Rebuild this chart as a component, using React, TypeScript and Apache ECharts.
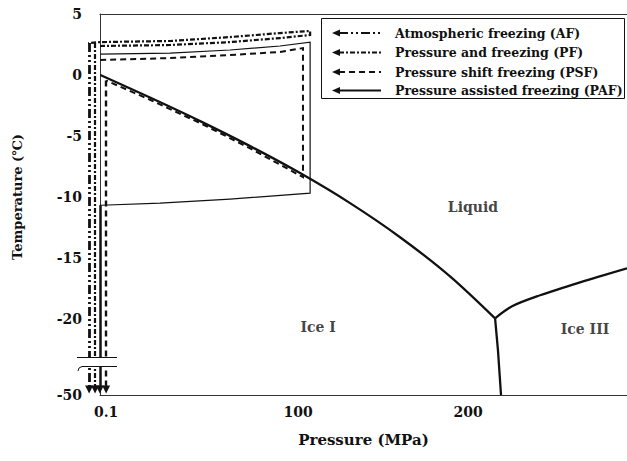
import React, { useEffect, useRef } from "react";
import * as echarts from "echarts";

// The original figure is schematic: pressure and temperature axes are broken.
// Values below are in the figure's display units.
const xTickValues = [-12.9, 100, 200];
const xTickLabels = ["0.1", "100", "200"];
const yTickValues = [5, 0, -5, -10, -15, -20, -26.2];
const yTickLabels = ["5", "0", "-5", "-10", "-15", "-20", "-50"];

// Phase boundaries
const iceILiquidP = [-16.3, 12.9, 42.4, 71.8, 101.2, 130.6, 160.0, 189.4, 215.9];
const iceILiquidT = [0.0, -1.84, -3.77, -5.82, -8.03, -10.49, -13.28, -16.48, -19.92];
const iceIIILiquidP = [215.9, 225.9, 242.4, 265.9, 293.5];
const iceIIILiquidT = [-19.92, -18.93, -18.03, -16.97, -15.82];
const iceIIceIIIP = [215.9, 217.6, 219.4];
const iceIIceIIIT = [-19.92, -22.54, -26.2];

// Freezing process paths (pressure / temperature treatment loops)
const pfLoopP = [-16.5, 24.7, 60, 89.4, 107.1, 107.1, 89.4, 60, 24.7, -16.5, -23.4];
const pfLoopT = [2.38, 2.46, 2.7, 3.03, 3.28, 3.61, 3.44, 3.11, 2.79, 2.7, 2.62];
const psfLoopP = [-16.4, 24.7, 60, 89.4, 102.9, 102.9, 71.8, 42.4, 12.9, -12.9];
const psfLoopT = [1.23, 1.39, 1.64, 1.89, 2.21, -8.36, -6.0, -3.93, -2.02, -0.45];
const pafLoopP = [-16.4, 24.7, 60, 89.4, 107.1, 107.1, 60, 18.8, -15.9, -16.6];
const pafLoopT = [1.72, 1.8, 2.05, 2.38, 2.7, -9.67, -10.16, -10.49, -10.66, -10.66];

// Final cooling to storage temperature at 0.1 MPa (start, end)
const afDownP = [-22.9, -22.9];
const afDownT = [2.62, -25.74];
const pfDownP = [-19.4, -19.4];
const pfDownT = [2.62, -25.74];
const psfDownP = [-12.9, -12.9];
const psfDownT = [-0.45, -25.74];
const pafDownP = [-16.6, -16.6];
const pafDownT = [-10.66, -25.74];

// Region labels
const regionNames = ["Liquid", "Ice I", "Ice III"];
const regionP = [202.9, 111.8, 268.8];
const regionT = [-10.82, -20.66, -20.82];

const legendNames = [
  "Atmospheric freezing (AF)",
  "Pressure and freezing (PF)",
  "Pressure shift freezing (PSF)",
  "Pressure assisted freezing (PAF)",
];

const INK = "#111";
const FONT = "DejaVu Serif";
const AF_DASH = [9, 3, 2, 3, 2, 3];
const PF_DASH = [5, 2, 2, 2];
const PSF_DASH = [6, 4];

const pts = (xs: number[], ys: number[]) => xs.map((x, i) => [x, ys[i]]);

export default function App() {
  const ref = useRef<HTMLDivElement>(null);
  useEffect(() => {
    const chart = echarts.init(ref.current!, null, { renderer: "svg" });

    const loopSeries = (name: string, xs: number[], ys: number[], width: number, type: any) => ({
      name,
      type: "lines",
      coordinateSystem: "cartesian2d",
      polyline: true,
      clip: false,
      silent: true,
      lineStyle: { color: INK, width, type, opacity: 1 },
      data: [{ coords: pts(xs, ys) }],
      z: 3,
    });
    const downSeries = (name: string, xs: number[], ys: number[], width: number, type: any) => ({
      name,
      type: "lines",
      coordinateSystem: "cartesian2d",
      clip: false,
      silent: true,
      symbol: ["none", "triangle"],
      symbolSize: 8,
      itemStyle: { color: INK },
      lineStyle: { color: INK, width, type, opacity: 1, curveness: 0 },
      data: [{ coords: pts(xs, ys) }],
      z: 3,
    });

    const legendRows = [33, 52.5, 72, 90.5];
    const legendDash = [AF_DASH, PF_DASH, PSF_DASH, null];
    const legendGraphic: any[] = [
      {
        type: "rect",
        z: 100,
        shape: { x: 321.5, y: 18.5, width: 303, height: 80 },
        style: { fill: "#fff", stroke: INK, lineWidth: 1 },
      },
    ];
    legendRows.forEach((y, i) => {
      legendGraphic.push({
        type: "line",
        z: 101,
        shape: { x1: 339, y1: y, x2: 381, y2: y },
        style: { stroke: INK, lineWidth: 2, lineDash: legendDash[i] || undefined },
      });
      legendGraphic.push({
        type: "polygon",
        z: 101,
        shape: { points: [[332, y], [340, y - 3.5], [340, y + 3.5]] },
        style: { fill: INK },
      });
      legendGraphic.push({
        type: "text",
        z: 101,
        x: 395,
        y,
        style: {
          text: legendNames[i],
          fill: INK,
          font: `bold 12.5px "${FONT}"`,
          verticalAlign: "middle",
          align: "left",
        },
      });
    });

    const option: any = {
      animation: false,
      backgroundColor: "#fff",
      grid: { left: 100, right: 0, top: 14, bottom: 66 },
      xAxis: [
        {
          type: "value",
          min: -16.5,
          max: 293.5,
          name: "Pressure (MPa)",
          nameLocation: "middle",
          nameGap: 37,
          nameTextStyle: { fontFamily: FONT, fontWeight: "bold", fontSize: 15, color: INK },
          axisLine: { show: true, onZero: false, lineStyle: { color: "#333", width: 1 } },
          axisTick: { show: false },
          splitLine: { show: false },
          axisLabel: {
            customValues: xTickValues,
            margin: 10,
            fontFamily: FONT,
            fontWeight: "bold",
            fontSize: 14,
            color: INK,
            formatter: (v: number) => {
              const i = xTickValues.findIndex((t) => Math.abs(t - v) < 1e-6);
              return i >= 0 ? xTickLabels[i] : "";
            },
          },
        },
        {
          type: "value",
          position: "top",
          min: -16.5,
          max: 293.5,
          axisLine: { show: true, onZero: false, lineStyle: { color: "#333", width: 1 } },
          axisTick: { show: false },
          axisLabel: { show: false },
          splitLine: { show: false },
        },
      ],
      yAxis: {
        type: "value",
        min: -26.2,
        max: 5,
        axisLine: { show: true, onZero: false, lineStyle: { color: "#333", width: 1 } },
        axisTick: { show: false },
        splitLine: { show: false },
        axisLabel: {
          customValues: yTickValues,
          margin: 18,
          fontFamily: FONT,
          fontWeight: "bold",
          fontSize: 14,
          color: INK,
          formatter: (v: number) => {
            const i = yTickValues.findIndex((t) => Math.abs(t - v) < 1e-6);
            return i >= 0 ? yTickLabels[i] : "";
          },
        },
      },
      series: [
        loopSeries("PF loop", pfLoopP, pfLoopT, 2.2, PF_DASH),
        loopSeries("PSF loop", psfLoopP, psfLoopT, 2, PSF_DASH),
        loopSeries("PAF loop", pafLoopP, pafLoopT, 1.2, "solid"),
        downSeries("AF", afDownP, afDownT, 2.8, AF_DASH),
        downSeries("PF", pfDownP, pfDownT, 2.2, PF_DASH),
        downSeries("PSF", psfDownP, psfDownT, 2.4, PSF_DASH),
        downSeries("PAF", pafDownP, pafDownT, 2.5, "solid"),
        {
          name: "Ice I / Liquid",
          type: "line",
          data: pts(iceILiquidP, iceILiquidT),
          showSymbol: false,
          symbol: "none",
          silent: true,
          smooth: 0.3,
          lineStyle: { color: INK, width: 2.3 },
          z: 5,
        },
        {
          name: "Ice III / Liquid",
          type: "line",
          data: pts(iceIIILiquidP, iceIIILiquidT),
          showSymbol: false,
          symbol: "none",
          silent: true,
          smooth: 0.3,
          lineStyle: { color: INK, width: 2.3 },
          z: 5,
        },
        {
          name: "Ice I / Ice III",
          type: "line",
          data: pts(iceIIceIIIP, iceIIceIIIT),
          showSymbol: false,
          symbol: "none",
          silent: true,
          lineStyle: { color: INK, width: 2.3 },
          z: 5,
        },
        {
          name: "Regions",
          type: "scatter",
          symbolSize: 1,
          silent: true,
          itemStyle: { color: "rgba(0,0,0,0)" },
          data: regionNames.map((n, i) => ({ name: n, value: [regionP[i], regionT[i]] })),
          label: {
            show: true,
            position: "inside",
            formatter: "{b}",
            fontFamily: FONT,
            fontWeight: "bold",
            fontSize: 14,
            color: INK,
          },
          z: 6,
        },
      ],
      graphic: [
        ...legendGraphic,
        {
          type: "text",
          z: 101,
          x: 17,
          y: 197,
          rotation: Math.PI / 2,
          style: {
            text: "Temperature (℃)",
            fill: INK,
            font: `bold 13px "${FONT}"`,
            align: "center",
            verticalAlign: "middle",
          },
        },
        // axis break
        {
          type: "rect",
          z: 100,
          shape: { x: 74, y: 358, width: 46, height: 8 },
          style: { fill: "#fff" },
        },
        {
          type: "polyline",
          z: 101,
          shape: { points: [[77, 357.5], [117, 357.5]] },
          style: { stroke: INK, lineWidth: 1, fill: null },
        },
        {
          type: "polyline",
          z: 101,
          shape: { points: [[78, 371], [79, 368], [82, 366.5], [117, 366.5]] },
          style: { stroke: INK, lineWidth: 1, fill: null },
        },
      ],
    };
    chart.setOption(option);
    return () => chart.dispose();
  }, []);
  return (
    <div
      ref={ref}
      style={{ position: "fixed", left: 0, top: 0, width: 627, height: 461, background: "#fff" }}
    />
  );
}
